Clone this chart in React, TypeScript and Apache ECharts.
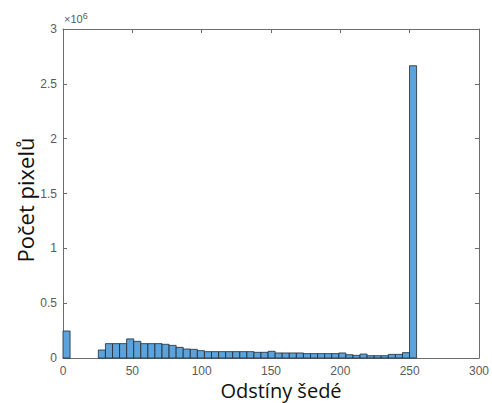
import React, { useEffect, useRef } from "react";
import * as echarts from "echarts";

// Histogram of grey levels: 50 bins over 0..255
const binCount = 50;
const rangeMax = 255;
const counts: number[] = [
  246000, 0, 0, 0, 0, 73000, 131000, 131000, 131000, 174000,
  152000, 131000, 131000, 131000, 125000, 115000, 97000, 82000, 79000, 67000,
  58000, 58000, 58000, 58000, 58000, 58000, 58000, 52000, 52000, 61000,
  46000, 46000, 46000, 46000, 40000, 40000, 40000, 40000, 40000, 46000,
  30000, 24000, 36000, 21000, 21000, 21000, 33000, 33000, 49000, 2665000,
];
const xTicks = [0, 50, 100, 150, 200, 250, 300];
const yTicks = [0, 500000, 1000000, 1500000, 2000000, 2500000, 3000000];

const xLabel = "Odstíny šedé";
const yLabel = "Počet pixelů";

export default function App() {
  const ref = useRef<HTMLDivElement>(null);
  useEffect(() => {
    if (!ref.current) return;
    const chart = echarts.init(ref.current, null, { renderer: "svg" });
    const bw = rangeMax / binCount;
    const data = counts.map((c, i) => [i * bw, (i + 1) * bw, c]);
    const axisColor = "#6b6b6b";
    const labelColor = "#5a5a5a";
    const line = { show: true, onZero: false, lineStyle: { color: axisColor, width: 1 } };
    const tick = { show: true, inside: true, length: 4, lineStyle: { color: axisColor } };
    chart.setOption({
      animation: false,
      grid: { left: 63, right: 12, top: 29, bottom: 45 },
      xAxis: [
        {
          type: "value",
          min: xTicks[0],
          max: xTicks[xTicks.length - 1],
          interval: 50,
          axisLine: line,
          axisTick: tick,
          axisLabel: { color: labelColor, fontSize: 12, fontFamily: "Liberation Sans", margin: 7, lineHeight: 12 },
          splitLine: { show: false },
        },
        {
          type: "value",
          position: "top",
          min: xTicks[0],
          max: xTicks[xTicks.length - 1],
          interval: 50,
          axisLine: line,
          axisTick: tick,
          axisLabel: { show: false },
          splitLine: { show: false },
        },
      ],
      yAxis: [
        {
          type: "value",
          min: yTicks[0],
          max: yTicks[yTicks.length - 1],
          interval: 500000,
          axisLine: line,
          axisTick: tick,
          axisLabel: {
            color: labelColor,
            fontSize: 12,
            fontFamily: "Liberation Sans",
            margin: 6,
            formatter: (v: number) => String(v / 1e6),
          },
          splitLine: { show: false },
        },
        {
          type: "value",
          position: "right",
          min: yTicks[0],
          max: yTicks[yTicks.length - 1],
          interval: 500000,
          axisLine: line,
          axisTick: tick,
          axisLabel: { show: false },
          splitLine: { show: false },
        },
      ],
      series: [
        {
          type: "custom",
          xAxisIndex: 0,
          yAxisIndex: 0,
          data,
          encode: { x: [0, 1], y: 2 },
          renderItem: (params: any, api: any) => {
            const x0 = api.value(0);
            const x1 = api.value(1);
            const v = api.value(2);
            if (!v) return null;
            const p0 = api.coord([x0, v]);
            const p1 = api.coord([x1, 0]);
            return {
              type: "rect",
              shape: { x: p0[0], y: p0[1], width: p1[0] - p0[0], height: p1[1] - p0[1] },
              style: { fill: "#5ba3da", stroke: "#1e2a36", lineWidth: 0.8 },
            };
          },
        },
      ],
      graphic: [
        {
          type: "text",
          left: 64,
          top: 11,
          style: {
            text: "×10{s|6}",
            fill: labelColor,
            font: "11px 'Liberation Sans'",
            rich: { s: { fontSize: 9, verticalAlign: "top", padding: [0, 0, 6, 0], fill: labelColor } },
          },
        },
        {
          type: "text",
          x: 281,
          y: 390,
          style: {
            text: xLabel,
            fill: "#111",
            font: "20px 'Open Sans'",
            lineHeight: 20,
            align: "center",
            verticalAlign: "middle",
          },
        },
        {
          type: "text",
          x: 25,
          y: 200,
          rotation: Math.PI / 2,
          style: {
            text: yLabel,
            fill: "#111",
            font: "22px 'Open Sans'",
            align: "center",
            verticalAlign: "middle",
          },
        },
      ],
    });
    return () => chart.dispose();
  }, []);
  return (
    <div
      ref={ref}
      style={{ position: "fixed", left: 0, top: 0, width: 492, height: 403, background: "#fff" }}
    />
  );
}
